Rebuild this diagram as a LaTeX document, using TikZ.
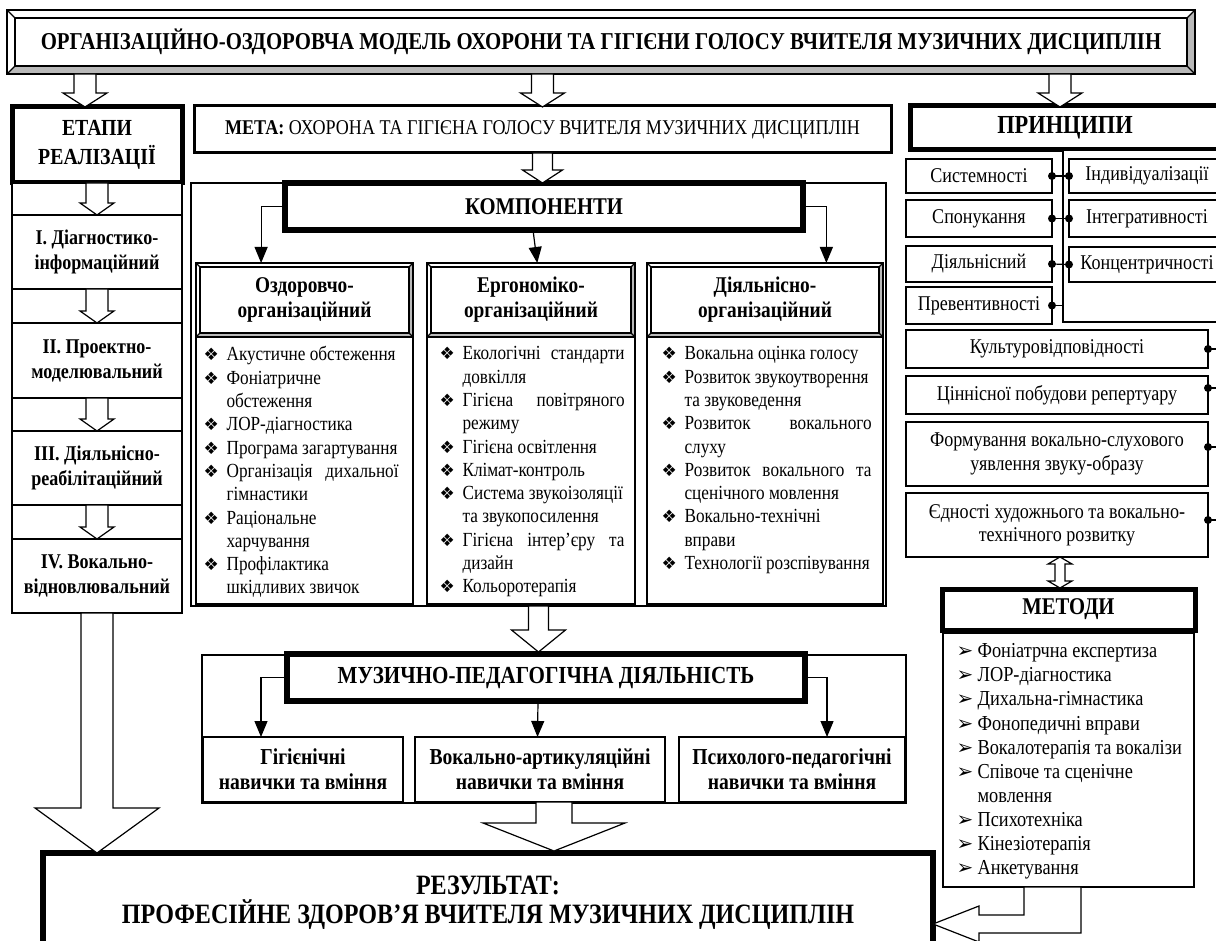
\documentclass[tikz,border=0pt]{standalone}
\usepackage{fontspec}
\setmainfont{Liberation Serif}[FakeStretch=0.86]
\newfontfamily\symfont{DejaVu Sans}
\usetikzlibrary{arrows.meta, calc, positioning}

\newcommand\bodyfont{\fontsize{20}{23.3}\selectfont}
\newcommand\boxfont{\fontsize{21}{23.3}\selectfont}
\newcommand\headfont{\fontsize{24}{27}\selectfont\bfseries}
\newcommand\subfont{\fontsize{21}{25}\selectfont\bfseries}
\newcommand\itm[1]{\makebox[23pt][l]{\symfont\fontsize{17}{17}\selectfont ❖}#1}
\newcommand\itj[2]{\makebox[23pt][l]{\symfont\fontsize{17}{17}\selectfont ❖}\makebox[#1][s]{#2}}
\newcommand\cnt[1]{\hspace*{23pt}#1}
\newcommand\mtd[1]{\makebox[21pt][l]{\symfont\fontsize{20}{20}\selectfont ➢}#1}
\newcommand\blockdown[5]{\draw[fill=white] #1 ++(-#3,0) -- ++(0,#2) -- ++({#3-#4},0) -- ++(#4,#5) -- ++(#4,-#5) -- ++({#3-#4},0) -- ++(0,-#2) -- cycle;}
\newcommand\bevel[2]{%
  \fill[gray!55] (#1.south west) -- (#1.south east) -- (#1.north east) -- ([shift={(-#2,-#2)}]#1.north east) -- ([shift={(-#2,#2)}]#1.south east) -- ([shift={(#2,#2)}]#1.south west) -- cycle;
  \draw (#1.north west) rectangle (#1.south east);
  \draw ([shift={(#2,-#2)}]#1.north west) rectangle ([shift={(-#2,#2)}]#1.south east);
  \draw (#1.north west) -- ++(#2,-#2) (#1.north east) -- ++(-#2,-#2)
        (#1.south west) -- ++(#2,#2) (#1.south east) -- ++(-#2,#2);}

\begin{document}
\begin{tikzpicture}[x=1pt, y=-1pt, line width=1.2pt, >={Triangle[length=16pt,width=13pt]},
  box/.style={draw, fill=white, align=center, inner sep=0pt, outer sep=0pt, font=\boxfont},
  boldbox/.style={box, font=\subfont},
  heavybox/.style={box, line width=5pt, font=\headfont},
  listtext/.style={align=left, inner sep=0pt, font=\bodyfont, anchor=north west}]

  \clip (0,0) rectangle (1216,941);

  \node[box, font=\fontsize{24.2}{27}\selectfont\bfseries, minimum width=1188pt, minimum height=64pt] (tit) at (601,42)
    {ОРГАНІЗАЦІЙНО-ОЗДОРОВЧА МОДЕЛЬ ОХОРОНИ ТА ГІГІЄНИ ГОЛОСУ ВЧИТЕЛЯ МУЗИЧНИХ ДИСЦИПЛІН};
  \bevel{tit}{8pt}

  \node[heavybox, font=\fontsize{23}{29}\selectfont\bfseries, minimum width=170pt, minimum height=76pt] (etapy) at (97,145) {ЕТАПИ\\РЕАЛІЗАЦІЇ};
  \node[box, line width=3pt, minimum width=697pt, minimum height=47pt] (meta) at (542.5,129.5)
    {\textbf{МЕТА:} ОХОРОНА ТА ГІГІЄНА ГОЛОСУ ВЧИТЕЛЯ МУЗИЧНИХ ДИСЦИПЛІН};
  \node[heavybox, font=\fontsize{26}{28}\selectfont\bfseries, minimum width=310pt, minimum height=44pt] (pr) at (1065,128) {ПРИНЦИПИ};

  \blockdown{($(tit.south -| etapy)+(-12,0)$)}{19}{11}{22}{14}
  \blockdown{(tit.south -| meta)}{19}{11}{22}{14}
  \blockdown{($(tit.south -| pr)+(-5,0)$)}{19}{11}{22}{14}

  \node[box, minimum width=170pt, minimum height=430pt] (stcol) at (97,398) {};
  \node[boldbox, minimum width=170pt, minimum height=74pt] (st1) at (97,252) {I. Діагностико-\\інформаційний};
  \node[boldbox, minimum width=170pt, minimum height=75pt] (st2) at (97,360.5) {II. Проектно-\\моделювальний};
  \node[boldbox, minimum width=170pt, minimum height=74pt] (st3) at (97,468) {III. Діяльнісно-\\реабілітаційний};
  \node[boldbox, minimum width=170pt, minimum height=74pt] (st4) at (97,576) {IV. Вокально-\\відновлювальний};
  \blockdown{(etapy.south)}{20}{11}{17}{12}
  \blockdown{(st1.south)}{22}{11}{17}{12}
  \blockdown{(st2.south)}{21}{11}{17}{12}
  \blockdown{(st3.south)}{22}{11}{17}{12}

  \node[box, minimum width=695pt, minimum height=423pt] (compcol) at (538.5,394.5) {};
  \node[heavybox, line width=6pt, minimum width=518pt, minimum height=47pt] (komp) at (544,206.5) {КОМПОНЕНТИ};
  \blockdown{(meta.south)}{17}{10}{20}{13}
  \node[boldbox, font=\fontsize{22.5}{25}\selectfont\bfseries, minimum width=217pt, minimum height=74pt] (hdr1) at (304.5,300) {Оздоровчо-\\організаційний};
  \node[boldbox, font=\fontsize{22.5}{25}\selectfont\bfseries, minimum width=208pt, minimum height=74pt] (hdr2) at (531,300) {Ергономіко-\\організаційний};
  \node[boldbox, font=\fontsize{22.5}{25}\selectfont\bfseries, minimum width=236pt, minimum height=74pt] (hdr3) at (765,300) {Діяльнісно-\\організаційний};
  \bevel{hdr1}{4pt}
  \bevel{hdr2}{4pt}
  \bevel{hdr3}{4pt}
  \node[box, minimum width=217pt, minimum height=267pt] (lst1) at (304.5,470.5) {};
  \node[box, minimum width=208pt, minimum height=267pt] (lst2) at (531,470.5) {};
  \node[box, minimum width=236pt, minimum height=267pt] (lst3) at (765,470.5) {};
  \draw[->] (komp.west) -| ($(hdr1.north west)!0.3!(hdr1.north east)$);
  \draw[->] ([xshift=-11pt]komp.south) -- ($(hdr2.north west)!0.53!(hdr2.north east)$);
  \draw[->] (komp.east) -| ($(hdr3.north west)!0.76!(hdr3.north east)$);

  \node[listtext] (txt1) at (203,346) {%
    \itm{Акустичне обстеження}\\
    \itm{Фоніатричне}\\
    \cnt{обстеження}\\
    \itm{ЛОР-діагностика}\\
    \itm{Програма загартування}\\
    \itj{172pt}{Організація дихальної}\\
    \cnt{гімнастики}\\
    \itm{Раціональне}\\
    \cnt{харчування}\\
    \itm{Профілактика}\\
    \cnt{шкідливих звичок}};
  \node[listtext] (txt2) at (439,346) {%
    \itj{162pt}{Екологічні стандарти}\\
    \cnt{довкілля}\\
    \itj{162pt}{Гігієна повітряного}\\
    \cnt{режиму}\\
    \itm{Гігієна освітлення}\\
    \itm{Клімат-контроль}\\
    \itm{Система звукоізоляції}\\
    \cnt{та звукопосилення}\\
    \itj{162pt}{Гігієна інтер’єру та}\\
    \cnt{дизайн}\\
    \itm{Кольоротерапія}};
  \node[listtext] (txt3) at (661,346) {%
    \itm{Вокальна оцінка голосу}\\
    \itm{Розвиток звукоутворення}\\
    \cnt{та звуковедення}\\
    \itj{187pt}{Розвиток вокального}\\
    \cnt{слуху}\\
    \itj{187pt}{Розвиток вокального та}\\
    \cnt{сценічного мовлення}\\
    \itm{Вокально-технічні}\\
    \cnt{вправи}\\
    \itm{Технології розспівування}};

  \node[box, minimum width=167pt, minimum height=172pt] (rcont) at (1146.5,236) {};
  \node[box, minimum width=146pt, minimum height=34pt] (p1) at (979,176) {Системності};
  \node[box, minimum width=146pt, minimum height=37pt] (p2) at (979,218.5) {Спонукання};
  \node[box, minimum width=146pt, minimum height=36pt] (p3) at (979,264) {Діяльнісний};
  \node[box, minimum width=146pt, minimum height=37pt] (p4) at (979,305.5) {Превентивності};
  \node[box, minimum width=156pt, minimum height=34pt] (q1) at (1147,176) {Індивідуалізації};
  \node[box, minimum width=156pt, minimum height=37pt] (q2) at (1147,218.5) {Інтегративності};
  \node[box, minimum width=156pt, minimum height=35pt] (q3) at (1147,264.5) {Концентричності};
  \foreach \a/\b in {p1/q1, p2/q2, p3/q3}{
    \draw (\a.east) -- (\b.west);
    \fill (\a.east) circle (4pt) (\b.west) circle (4pt);
  }
  \draw (p4.east) -- (p4.east -| rcont.west);
  \fill (p4.east) circle (4pt);

  \node[box, minimum width=302pt, minimum height=38pt] (c1) at (1057,349) {Культуровідповідності};
  \node[box, minimum width=302pt, minimum height=38pt] (c2) at (1057,395) {Ціннісної побудови репертуару};
  \node[box, minimum width=302pt, minimum height=64pt] (c3) at (1057,454) {Формування вокально-слухового\\уявлення звуку-образу};
  \node[box, minimum width=302pt, minimum height=64pt] (c4) at (1057,525) {Єдності художнього та вокально-\\технічного розвитку};
  \foreach \c/\s in {c1/0, c2/7, c3/7, c4/5}{
    \draw ([yshift=\s pt]\c.east) -- ++(20pt,0);
    \fill ([yshift=\s pt]\c.east) circle (4pt);
  }

  \node[heavybox, minimum width=253pt, minimum height=41pt] (mt) at (1068.5,609.5) {МЕТОДИ};
  \draw[fill=white] ($(c4.south)+(3,0)$) -- ++(12,7) -- ++(-7,0) -- ++(0,17) -- ++(7,0) -- ++(-12,7)
    -- ++(-12,-7) -- ++(7,0) -- ++(0,-17) -- ++(-7,0) -- cycle;
  \node[box, minimum width=251pt, minimum height=254pt] (mlist) at (1068.5,760) {};
  \node[listtext, font=\fontsize{21.3}{24.1}\selectfont] (mtxt) at (956,643) {%
    \mtd{Фоніатрчна експертиза}\\
    \mtd{ЛОР-діагностика}\\
    \mtd{Дихальна-гімнастика}\\
    \mtd{Фонопедичні вправи}\\
    \mtd{Вокалотерапія та вокалізи}\\
    \mtd{Співоче та сценічне}\\
    \hspace*{21pt}мовлення\\
    \mtd{Психотехніка}\\
    \mtd{Кінезіотерапія}\\
    \mtd{Анкетування}};

  \blockdown{(compcol.south)}{24}{10}{27}{22}
  \node[box, minimum width=704pt, minimum height=148pt] (muscol) at (554,729) {};
  \node[heavybox, font=\fontsize{24.5}{27}\selectfont\bfseries, line width=6pt, minimum width=518pt, minimum height=47pt] (mus) at (546,677.5) {МУЗИЧНО-ПЕДАГОГІЧНА ДІЯЛЬНІСТЬ};
  \node[boldbox, font=\fontsize{22.8}{25}\selectfont\bfseries, minimum width=200pt, minimum height=65pt] (sk1) at (303,769.5) {Гігієнічні\\навички та вміння};
  \node[boldbox, font=\fontsize{22.8}{25}\selectfont\bfseries, minimum width=250pt, minimum height=65pt] (sk2) at (540,769.5) {Вокально-артикуляційні\\навички та вміння};
  \node[boldbox, font=\fontsize{22.8}{25}\selectfont\bfseries, minimum width=226pt, minimum height=65pt] (sk3) at (792,769.5) {Психолого-педагогічні\\навички та вміння};
  \draw[->] (mus.west) -| ($(sk1.north west)!0.29!(sk1.north east)$);
  \draw[->] ([xshift=-8pt]mus.south) -- ($(sk2.north west)!0.49!(sk2.north east)$);
  \draw[->] (mus.east) -| ($(sk3.north west)!0.655!(sk3.north east)$);

  \node[box, line width=6pt, minimum width=890pt, minimum height=122pt, anchor=north] (res) at (488,853) {};
  \node[align=center, inner sep=0pt, font=\fontsize{28}{29}\selectfont\bfseries] (restxt) at (488,902.5)
    {РЕЗУЛЬТАТ:\\ПРОФЕСІЙНЕ ЗДОРОВ’Я ВЧИТЕЛЯ МУЗИЧНИХ ДИСЦИПЛІН};
  \blockdown{(stcol.south)}{195}{16}{62}{45}
  \blockdown{([xshift=14pt]sk2.south)}{21}{18}{71}{28}
  \draw[fill=white] ([xshift=-44.5pt]mlist.south) -- ++(0,28) -- ++(-45,0) -- ++(0,-9) -- ++(-46,18)
    -- ++(46,18) -- ++(0,-9) -- ++(102,0) -- ++(0,-46) -- cycle;
\end{tikzpicture}
\end{document}
